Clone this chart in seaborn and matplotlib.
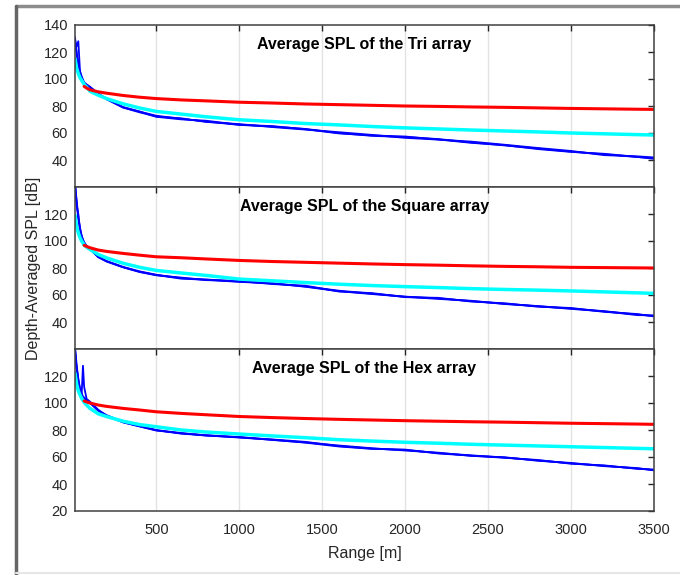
"""
Depth-averaged SPL vs range for the Tri / Square / Hex arrays (three stacked panels).
"""

import numpy as np
import pandas as pd
import matplotlib
matplotlib.use('Agg')
import matplotlib.pyplot as plt
from matplotlib.lines import Line2D
import seaborn as sns

nan = np.nan

# ── Data ──────────────────────────────────────────────────────────────────
RANGE = [10, 20, 30, 40, 50, 58, 65, 80, 100, 150, 200, 300, 400, 500, 650, 800,
         1000, 1200, 1400, 1600, 1800, 2000, 2200, 2400, 2600, 2800, 3000, 3200,
         3400, 3500]

# Tri array
tri_red = [nan, nan, nan, nan, nan, nan, 94.5, 93.3, 92, 90.5, 89.5, 87.8, 86.5, 85.5,
           84.5, 83.8, 82.8, 82.2, 81.5, 81, 80.5, 80, 79.7, 79.3, 79, 78.6, 78.2,
           77.9, 77.6, 77.5]
tri_cyan = [115, 108, 104, 101, 99, 97.5, 96, 94, 91, 88, 85.5, 81.6, 78.5, 76, 74, 72,
            69.8, 68.5, 67, 66, 64.8, 63.8, 63, 62.2, 61.5, 60.8, 60, 59.4, 58.8, 58.5]
tri_blue1 = [131, 118, 110, 105, 101, 99, 97, 95.5, 94, 89, 85.5, 79.2, 75.8, 72.8, 70.5,
             68.5, 66, 64.8, 63, 60, 57.9, 57, 55.5, 53, 50.8, 48.5, 46.2, 44.2, 42.2, 41.3]
tri_blue2 = [128, 124, 128, 106, 102, 99.5, 97.5, 96, 94.3, 89.3, 85, 78.8, 75.3, 72.2,
             70.9, 68.2, 66.6, 64.4, 62.5, 60.6, 58.6, 56.4, 55.1, 53.6, 51.3, 48.9,
             46.7, 43.6, 42.7, 41.9]
tri_blue3 = [130, 120, 112, 104.5, 100.5, 98.5, 96.5, 95, 93.6, 88.6, 85.2, 79, 75.9, 72,
             70.1, 69.1, 66.1, 65.1, 62.8, 59.7, 58.2, 57.4, 55.2, 52.7, 51, 48.1, 46,
             44.6, 42.3, 40.9]

# Square array
sq_red = [nan, nan, nan, nan, nan, nan, 96.8, 96, 95, 93.3, 92.3, 90.8, 89.5, 88.3, 87.6,
          86.7, 85.6, 84.8, 84.2, 83.6, 83, 82.5, 82.1, 81.6, 81.2, 80.9, 80.5, 80.3,
          80.1, 80]
sq_cyan = [119, 111, 106, 102.5, 100, 98.5, 97, 95.5, 93.8, 90, 87.5, 83.5, 80.5, 78.2,
           76.3, 74.5, 71.8, 70.5, 69.2, 68, 67, 66.2, 65.5, 64.7, 64.1, 63.6, 63, 62.3,
           61.6, 61.2]
sq_blue1 = [142, 130, 118, 110, 104, 101, 99, 96.5, 94.5, 88.5, 85.2, 80.8, 77.5, 75,
            72.5, 71.5, 70, 68.5, 66.3, 63.2, 61, 58.8, 57.5, 55.5, 53.5, 51.8, 50, 48,
            45.5, 44.5]
sq_blue2 = [145, 126, 120, 108, 103, 100.5, 98.5, 96, 94, 88, 84.8, 80.5, 77, 74.6,
            72.9, 71, 70.4, 68.1, 66.9, 62.6, 61.4, 58.4, 57.9, 55.1, 53.9, 51.3, 50.4,
            47.5, 45.9, 44.1]
sq_blue3 = [140, 128, 116, 109, 103.5, 100.8, 98.8, 96.2, 94.2, 88.2, 85, 80.6, 77.2,
            74.8, 72.1, 71.3, 69.7, 68.7, 66.1, 62.8, 60.7, 58.7, 57.1, 55.7, 53.3, 51.7,
            49.7, 47.9, 45.1, 44.9]

# Hex array
hex_red = [nan, nan, nan, nan, nan, nan, 101.5, 100.8, 100, 98.5, 97.5, 96, 94.8, 93.5,
           92.3, 91.3, 90, 89.2, 88.5, 87.9, 87.4, 86.9, 86.5, 86.1, 85.8, 85.4, 85,
           84.7, 84.4, 84.2]
hex_cyan = [122, 114, 109, 106, 103.5, 102, 100.5, 98.5, 96, 92, 90, 86.5, 84, 82.4, 80,
            78.5, 77, 75.6, 74.3, 72.8, 71.8, 70.9, 70.2, 69.4, 68.8, 68.2, 67.6, 67,
            66.4, 66.1]
hex_blue1 = [142, 128, 118, 111, 107, 105, 104, 102.5, 100.5, 94.5, 91, 86, 83, 80, 77.5,
             76.2, 74.6, 73, 71.2, 68.1, 66.2, 65.2, 62.9, 61.2, 59.6, 57.5, 55.3, 53.5,
             51.5, 50.4]
hex_blue2 = [140, 125, 116, 110, 106, 127.6, 112, 103, 101, 95, 90.5, 85.6, 82.6, 79.6,
             77.8, 75.8, 74.8, 72.6, 70.8, 68.5, 66.5, 64.8, 63.2, 60.8, 59.8, 57.2, 55.6,
             53.2, 51.8, 50.1]
hex_blue3 = [138, 126, 117, 109, 105.5, 104, 103, 102, 100, 94.2, 90.8, 85.8, 82.8, 79.8,
             77.3, 76, 74.4, 72.8, 70.6, 67.8, 66, 65.5, 62.6, 61, 59.4, 57.8, 55, 53.8,
             51.2, 50.7]

PANELS = [
    ("Average SPL of the Tri array", tri_blue1, tri_blue2, tri_blue3, tri_cyan, tri_red,
     [40, 60, 80, 100, 120, 140]),
    ("Average SPL of the Square array", sq_blue1, sq_blue2, sq_blue3, sq_cyan, sq_red,
     [40, 60, 80, 100, 120]),
    ("Average SPL of the Hex array", hex_blue1, hex_blue2, hex_blue3, hex_cyan, hex_red,
     [20, 40, 60, 80, 100, 120]),
]
XTICKS = [500, 1000, 1500, 2000, 2500, 3000, 3500]

# ── Style ────────────────────────────────────────────────────────────────
sns.set_theme(style='white')
plt.rcParams['font.family'] = ['Liberation Sans', 'DejaVu Sans']
plt.rcParams['axes.linewidth'] = 1.1

fig = plt.figure(figsize=(6.8, 5.75), dpi=100)
fig.patch.set_facecolor('white')

left, width = 75 / 680, (654 - 75) / 680
tops = [25, 187, 349]
h = 162 / 575

axes = []
for i, (title, b1, b2, b3, cy, rd, yt) in enumerate(PANELS):
    bottom = 1 - (tops[i] + 162) / 575
    ax = fig.add_axes([left, bottom, width, h], sharex=axes[0] if axes else None)
    axes.append(ax)

    for b in (b1, b2, b3):
        sns.lineplot(x=RANGE, y=b, ax=ax, color='#0000FF', lw=1.3, estimator=None)
    sns.lineplot(x=RANGE, y=cy, ax=ax, color='#00FFFF', lw=2.5, estimator=None)
    sns.lineplot(x=RANGE, y=rd, ax=ax, color='#FF0000', lw=2.2, estimator=None)

    ax.set_xlim(10, 3500)
    ax.set_ylim(20, 140)
    ax.set_yticks(yt)
    ax.set_xticks(XTICKS)
    ax.xaxis.grid(True, color='#E3E3E3', lw=1.0)
    ax.yaxis.grid(False)
    ax.set_axisbelow(True)
    ax.tick_params(direction='in', top=True, right=True, length=4.5, width=1.0,
                   color='#262626', labelcolor='#262626', labelsize=10.5, pad=5)
    ax.tick_params(axis='x', pad=9)
    for s in ax.spines.values():
        s.set_visible(True)
        s.set_color('#404040')
    ax.text(0.5, 0.88, title, transform=ax.transAxes, ha='center', va='center',
            fontsize=11.5, fontweight='bold', color='black')
    ax.set_ylabel('')
    if i < 2:
        ax.tick_params(labelbottom=False)

axes[-1].set_xlabel('Range [m]', fontsize=11.5, color='#262626')
axes[-1].xaxis.set_label_coords(0.5, -0.215)
axes[1].set_ylabel('Depth-Averaged SPL [dB]', fontsize=11.5, color='#262626')
axes[1].yaxis.set_label_coords(-0.058, 0.5)

# window-like frame around the figure
fig.add_artist(Line2D([16 / 680, 1], [1 - 6 / 575, 1 - 6 / 575], color='#8C8C8C', lw=2.5))
fig.add_artist(Line2D([16 / 680, 16 / 680], [0, 1 - 6 / 575], color='#666666', lw=2.5))
fig.add_artist(Line2D([16 / 680, 1], [2 / 575, 2 / 575], color='#E6E6E6', lw=1.5))

fig.savefig('out.png', dpi=100, facecolor='white')
